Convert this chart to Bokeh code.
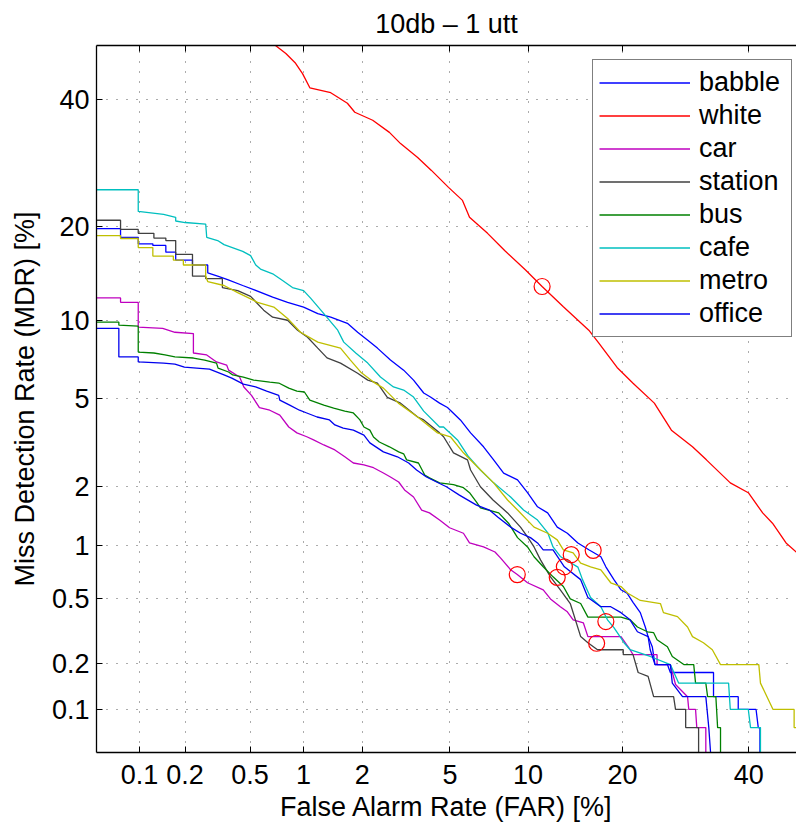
from statistics import NormalDist
from bokeh.plotting import figure
from bokeh.models import (FixedTicker, LinearAxis, Legend, LegendItem, Range1d,
                          CustomJSTickFormatter)
from bokeh.embed import file_html
from bokeh.resources import INLINE

# ---------------- data (percent values) ----------------
TITLE = "10db \u2013 1 utt"
TICK_PCT = [0.1, 0.2, 0.5, 1, 2, 5, 10, 20, 40]
TICK_LABELS = ["0.1", "0.2", "0.5", "1", "2", "5", "10", "20", "40"]
AXIS_MIN_PCT = 0.05
X_MAX_PCT = 48.74
Y_MAX_PCT = 50.0

NAMES = ["babble", "white", "car", "station", "bus", "cafe", "metro", "office"]
COLORS = ["#0000FF", "#FF0000", "#BF00BF", "#404040", "#008000", "#00BFBF", "#BFBF00", "#0000EE"]

# (FAR %, MDR %)
babble = [(0.05, 19.7), (0.074, 19.7), (0.074, 18.6), (0.098, 18.6), (0.098, 17.8), (0.123, 17.8),
          (0.123, 17.6), (0.15, 17.6), (0.15, 16.8), (0.174, 16.8), (0.174, 15.9), (0.223, 15.9),
          (0.223, 15.35), (0.278, 15.35), (0.278, 14.5), (0.32, 14.15), (0.368, 13.8), (0.453, 13.2),
          (0.525, 12.8), (0.675, 12.07), (0.818, 11.6), (1.0, 11.17), (1.19, 10.6), (1.39, 10.3),
          (1.69, 9.8), (1.90, 9.1), (2.13, 8.51), (2.37, 7.95), (2.73, 7.16), (3.14, 6.54),
          (3.48, 5.97), (3.86, 5.29), (4.13, 5.09), (4.52, 4.80), (4.88, 4.6), (5.52, 4.07),
          (6.07, 3.57), (6.83, 3.09), (7.47, 2.69), (8.15, 2.33), (9.17, 2.16), (9.96, 1.87),
          (10.8, 1.59), (11.7, 1.48), (12.6, 1.25), (13.6, 1.16), (14.7, 1.03), (15.9, 0.946),
          (17.3, 0.867), (17.9, 0.763), (18.9, 0.646), (19.8, 0.565), (20.6, 0.54), (21.4, 0.478),
          (22.4, 0.415), (23.1, 0.34), (23.5, 0.297), (24.1, 0.257), (24.5, 0.198), (26.35, 0.198),
          (26.8, 0.176), (33.8, 0.176), (33.8, 0.122), (38.1, 0.122), (38.1, 0.1), (41.3, 0.1),
          (41.7, 0.075), (42.0, 0.075), (42.0, 0.05)]

white = [(0.70, 50.0), (0.80, 48.5), (0.905, 46.7), (0.987, 44.8), (1.08, 42.2), (1.39, 41.3),
         (1.69, 39.4), (1.84, 37.8), (2.25, 36.4), (2.70, 34.3), (3.04, 32.4), (3.63, 30.1),
         (4.17, 28.05), (4.93, 25.45), (5.63, 23.55), (6.01, 21.2), (7.08, 19.1), (8.22, 17.0),
         (9.80, 14.8), (11.2, 13.1), (13.2, 11.2), (15.9, 9.26), (17.06, 8.3), (19.3, 6.7),
         (21.4, 5.8), (24.4, 4.80), (26.96, 3.67), (30.3, 3.09), (32.6, 2.69), (36.7, 2.09),
         (39.9, 1.87), (42.5, 1.48), (44.3, 1.31), (46.8, 1.03), (48.7, 0.92), (49.5, 0.85)]

car = [(0.05, 12.0), (0.074, 12.0), (0.074, 11.6), (0.098, 11.6), (0.098, 9.5), (0.143, 9.4),
       (0.172, 9.1), (0.226, 9.0), (0.226, 7.62), (0.274, 7.49), (0.315, 7.04), (0.363, 6.85),
       (0.373, 6.54), (0.434, 6.14), (0.46, 5.6), (0.51, 5.17), (0.567, 4.6), (0.65, 4.48),
       (0.74, 4.27), (0.83, 3.79), (0.92, 3.57), (1.04, 3.43), (1.13, 3.32), (1.28, 3.15),
       (1.46, 2.99), (1.64, 2.78), (1.81, 2.6), (2.04, 2.55), (2.27, 2.47), (2.53, 2.33),
       (2.73, 2.23), (2.98, 2.11), (3.17, 1.93), (3.48, 1.78), (3.78, 1.53), (4.09, 1.48),
       (4.52, 1.36), (4.98, 1.24), (5.68, 1.16), (6.01, 1.03), (6.83, 0.98), (7.56, 0.92),
       (7.93, 0.855), (8.65, 0.734), (9.15, 0.69), (9.96, 0.62), (11.3, 0.565), (11.96, 0.5),
       (12.9, 0.45), (13.6, 0.42), (14.2, 0.376), (15.3, 0.36), (15.8, 0.297), (19.8, 0.297),
       (21.0, 0.246), (21.4, 0.229), (24.8, 0.229), (24.8, 0.198), (26.8, 0.198), (27.6, 0.147),
       (29.5, 0.122), (29.7, 0.1), (30.8, 0.1), (31.0, 0.075), (32.5, 0.075), (32.5, 0.05)]

station = [(0.05, 20.8), (0.074, 20.8), (0.074, 19.6), (0.098, 19.6), (0.098, 19.1), (0.125, 19.1),
           (0.125, 18.5), (0.15, 18.5), (0.15, 18.2), (0.174, 18.2), (0.174, 16.55), (0.223, 16.55),
           (0.223, 14.15), (0.27, 14.15), (0.27, 13.9), (0.342, 13.9), (0.342, 13.0), (0.423, 12.7),
           (0.504, 12.15), (0.6, 10.9), (0.675, 10.3), (0.818, 10.05), (0.928, 9.26), (1.05, 8.73),
           (1.19, 7.95), (1.33, 7.3), (1.56, 6.97), (1.90, 6.36), (2.13, 5.97), (2.37, 5.8),
           (2.64, 5.07), (3.04, 4.80), (3.63, 4.19), (3.86, 4.07), (4.52, 3.57), (4.70, 3.43),
           (5.17, 2.90), (5.9, 2.69), (6.07, 2.41), (6.64, 2.0), (7.43, 1.72), (8.43, 1.48),
           (9.40, 1.25), (9.96, 1.11), (10.5, 0.98), (11.06, 0.833), (11.96, 0.67), (12.9, 0.565),
           (13.9, 0.47), (15.0, 0.297), (15.8, 0.272), (16.9, 0.246), (20.1, 0.246), (20.1, 0.229),
           (21.4, 0.229), (22.1, 0.176), (23.5, 0.166), (24.3, 0.122), (27.3, 0.122), (27.6, 0.1),
           (29.2, 0.1), (29.2, 0.075), (31.3, 0.075), (31.3, 0.05)]

bus = [(0.05, 9.9), (0.072, 9.9), (0.072, 9.65), (0.098, 9.57), (0.098, 7.68), (0.125, 7.62),
       (0.148, 7.49), (0.172, 7.36), (0.226, 7.29), (0.266, 7.16), (0.315, 6.97), (0.322, 6.66),
       (0.373, 6.43), (0.395, 6.26), (0.457, 6.14), (0.525, 5.97), (0.65, 5.86), (0.73, 5.81),
       (0.83, 5.54), (0.92, 5.39), (1.01, 5.34), (1.08, 4.94), (1.28, 4.71), (1.44, 4.57),
       (1.64, 4.44), (1.81, 4.36), (1.95, 4.07), (2.04, 3.79), (2.18, 3.67), (2.27, 3.42),
       (2.42, 3.25), (2.70, 3.09), (2.98, 2.93), (3.14, 2.87), (3.24, 2.69), (3.66, 2.6),
       (3.90, 2.28), (4.09, 2.21), (4.52, 2.09), (5.17, 2.05), (5.68, 1.98), (6.01, 1.87),
       (6.41, 1.68), (6.64, 1.57), (7.81, 1.48), (8.5, 1.31), (9.17, 1.10), (9.96, 0.98),
       (10.5, 0.867), (11.3, 0.763), (12.2, 0.67), (13.2, 0.59), (13.9, 0.5), (15.0, 0.47),
       (15.8, 0.39), (19.8, 0.39), (21.0, 0.376), (22.0, 0.34), (23.4, 0.318), (24.3, 0.314),
       (24.8, 0.284), (26.35, 0.257), (27.1, 0.223), (28.9, 0.198), (30.5, 0.198), (30.8, 0.15),
       (32.5, 0.15), (32.8, 0.122), (34.2, 0.122), (34.5, 0.075), (35.0, 0.075), (35.0, 0.05)]

cafe = [(0.05, 25.1), (0.098, 25.1), (0.098, 22.0), (0.145, 21.6), (0.174, 21.2), (0.174, 20.7),
        (0.2, 20.5), (0.27, 20.3), (0.274, 18.6), (0.32, 18.2), (0.35, 17.7), (0.453, 16.9),
        (0.504, 16.4), (0.54, 15.35), (0.575, 14.9), (0.675, 14.4), (0.767, 13.7), (0.87, 13.0),
        (1.0, 12.7), (1.09, 11.98), (1.28, 10.6), (1.51, 9.26), (1.62, 8.37), (1.86, 7.62),
        (2.13, 6.97), (2.45, 6.14), (2.82, 5.6), (3.14, 5.44), (3.48, 5.09), (3.86, 4.44),
        (4.52, 3.79), (4.70, 3.79), (5.37, 3.32), (5.96, 2.78), (6.64, 2.41), (7.47, 2.09),
        (8.65, 1.78), (9.64, 1.53), (10.8, 1.36), (11.7, 1.17), (12.2, 0.98), (12.9, 0.87),
        (14.7, 0.76), (15.2, 0.646), (16.1, 0.51), (17.3, 0.45), (18.1, 0.376), (18.9, 0.337),
        (19.5, 0.305), (20.2, 0.272), (21.0, 0.246), (23.8, 0.223), (26.8, 0.198), (28.1, 0.15),
        (36.4, 0.15), (36.7, 0.1), (39.9, 0.1), (40.3, 0.075), (42.1, 0.075), (42.1, 0.05)]

metro = [(0.05, 18.8), (0.074, 18.8), (0.074, 18.45), (0.098, 18.45), (0.098, 17.35), (0.123, 17.35),
         (0.123, 16.35), (0.168, 16.35), (0.168, 15.9), (0.195, 15.9), (0.195, 15.35), (0.27, 15.35),
         (0.27, 14.15), (0.278, 13.6), (0.35, 13.2), (0.423, 12.5), (0.553, 11.6), (0.685, 11.17),
         (0.818, 10.2), (0.962, 9.1), (1.19, 8.37), (1.56, 7.95), (1.75, 7.16), (1.97, 6.42),
         (2.27, 5.86), (2.53, 5.54), (2.97, 4.80), (3.63, 4.19), (4.43, 3.57), (5.02, 3.43),
         (5.68, 2.90), (6.47, 2.49), (7.47, 2.09), (8.43, 1.72), (9.17, 1.53), (10.5, 1.25),
         (11.7, 1.16), (12.6, 1.07), (13.2, 0.946), (14.2, 0.91), (15.0, 0.80), (16.1, 0.763),
         (17.3, 0.734), (18.5, 0.62), (19.8, 0.59), (20.7, 0.54), (22.4, 0.49), (25.3, 0.47),
         (25.75, 0.415), (27.9, 0.393), (29.5, 0.34), (30.3, 0.297), (32.1, 0.272), (33.6, 0.246),
         (35.0, 0.198), (41.8, 0.198), (42.1, 0.15), (44.4, 0.1), (48.3, 0.1), (48.3, 0.075),
         (49.5, 0.075)]

office = [(0.05, 9.4), (0.072, 9.4), (0.072, 7.36), (0.098, 7.36), (0.098, 7.04), (0.145, 6.97),
          (0.172, 6.91), (0.198, 6.72), (0.237, 6.66), (0.285, 6.6), (0.35, 6.26), (0.39, 6.08),
          (0.457, 5.75), (0.539, 5.6), (0.624, 5.39), (0.73, 5.17), (0.74, 4.94), (0.84, 4.71),
          (0.95, 4.48), (1.04, 4.36), (1.18, 4.19), (1.37, 4.07), (1.46, 3.87), (1.61, 3.75),
          (1.81, 3.67), (2.04, 3.49), (2.18, 3.22), (2.53, 2.93), (2.94, 2.78), (3.31, 2.6),
          (3.59, 2.41), (3.97, 2.23), (4.39, 2.11), (4.83, 2.0), (5.47, 1.82), (6.41, 1.62),
          (7.2, 1.53), (7.74, 1.41), (8.65, 1.25), (9.40, 1.16), (10.2, 1.10), (10.8, 1.03),
          (11.3, 0.946), (12.2, 0.946), (13.3, 0.763), (15.0, 0.646), (15.8, 0.51), (17.3, 0.45),
          (18.5, 0.45), (19.8, 0.415), (21.0, 0.376), (22.0, 0.318), (23.5, 0.297), (23.8, 0.246),
          (24.5, 0.198), (26.8, 0.198), (27.1, 0.15), (28.7, 0.122), (32.5, 0.122), (33.0, 0.075),
          (33.3, 0.05)]

# operating points (red circles), same order as NAMES
circle_far = [16.4, 11.2, 9.15, 16.8, 12.6, 17.9, 14.0, 13.3]
circle_mdr = [0.94, 13.1, 0.69, 0.27, 0.666, 0.367, 0.89, 0.763]

SERIES = [babble, white, car, station, bus, cafe, metro, office]

# ---------------- probit (normal deviate) axis transform ----------------
_nd = NormalDist()


def probit(pct):
    return _nd.inv_cdf(pct / 100.0)


FONT = "Liberation Sans"
tick_vals = [round(probit(t), 6) for t in TICK_PCT]

p = figure(width=796, height=827,
           x_range=Range1d(probit(AXIS_MIN_PCT), probit(X_MAX_PCT)),
           y_range=Range1d(probit(AXIS_MIN_PCT), probit(Y_MAX_PCT)),
           output_backend="svg", toolbar_location=None,
           min_border_left=96, min_border_right=0, min_border_top=45, min_border_bottom=75,
           outline_line_color=None, background_fill_color="white", border_fill_color="white")

label_fmt = CustomJSTickFormatter(args=dict(vals=tick_vals, labs=TICK_LABELS), code="""
let best = 0, d = 1e9;
for (let i = 0; i < vals.length; i++) {
  const e = Math.abs(vals[i] - tick);
  if (e < d) { d = e; best = i; }
}
return labs[best];
""")

for ax in (p.xaxis[0], p.yaxis[0]):
    ax.ticker = FixedTicker(ticks=tick_vals)
    ax.formatter = label_fmt
    ax.major_tick_in = 6
    ax.major_tick_out = 0
    ax.minor_tick_in = 0
    ax.minor_tick_out = 0
    ax.axis_line_width = 1.3
    ax.axis_line_color = "black"
    ax.major_tick_line_color = "black"
    ax.major_label_text_font = FONT
    ax.major_label_text_font_size = "27px"
    ax.major_label_text_color = "black"
    ax.axis_label_text_font = FONT
    ax.axis_label_text_font_size = "27px"
    ax.axis_label_text_font_style = "normal"
    ax.axis_label_text_color = "black"

p.xaxis.axis_label = "False Alarm Rate (FAR) [%]"
p.yaxis.axis_label = "Miss Detection Rate (MDR) [%]"
p.xaxis.major_label_standoff = 12
p.xaxis.axis_label_standoff = 5
p.yaxis.major_label_standoff = 7
p.yaxis.axis_label_standoff = 9

top_axis = LinearAxis(ticker=FixedTicker(ticks=tick_vals),
                      formatter=CustomJSTickFormatter(code="return '';"),
                      major_tick_in=6, major_tick_out=0, minor_tick_in=0, minor_tick_out=0,
                      axis_line_width=1.3, axis_line_color="black",
                      major_label_standoff=0, major_label_text_font_size="1px")
p.add_layout(top_axis, "above")

for g in (p.xgrid[0], p.ygrid[0]):
    g.ticker = FixedTicker(ticks=tick_vals)
    g.grid_line_color = "black"
    g.grid_line_alpha = 0.65
    g.grid_line_dash = "1 9"
    g.grid_line_width = 1

p.title.text = TITLE
p.title.text_font = FONT
p.title.text_font_size = "27px"
p.title.text_font_style = "normal"
p.title.text_color = "black"
p.title.align = "center"
p.title.vertical_align = "top"
p.title.standoff = 10

items = []
for name, color, data in zip(NAMES, COLORS, SERIES):
    xs = [probit(f) for f, _ in data]
    ys = [probit(m) for _, m in data]
    r = p.line(xs, ys, line_color=color, line_width=1.3)
    items.append(LegendItem(label=name, renderers=[r]))

p.scatter([probit(v) for v in circle_far], [probit(v) for v in circle_mdr],
          marker="circle", size=16, fill_color=None, line_color="#FF0000", line_width=1.2)

legend = Legend(items=items, location=(496, 415), padding=6, spacing=0, margin=0,
                glyph_width=91, glyph_height=33, label_height=33, label_width=86,
                label_standoff=9, border_line_color="black", border_line_width=1.3,
                background_fill_color="white", background_fill_alpha=1.0,
                label_text_font=FONT, label_text_font_size="27px", label_text_color="black")
p.add_layout(legend)

open("out.html", "w").write(file_html(p, INLINE))
